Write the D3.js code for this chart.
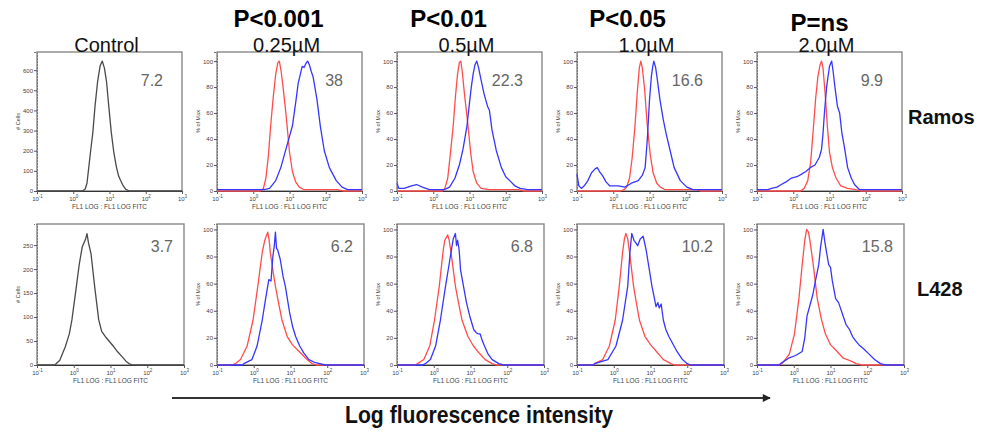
<!DOCTYPE html>
<html>
<head>
<meta charset="utf-8">
<script src="https://cdn.jsdelivr.net/npm/d3@7"></script>
<style>
  body { margin: 0; background: #fff; }
  svg { font-family: "Liberation Sans", Arial, sans-serif; }
</style>
</head>
<body>
<svg width="986" height="432"></svg>
<script>
// ---- labels ----
var concLabels = ["Control", "0.25\u00b5M", "0.5\u00b5M", "1.0\u00b5M", "2.0\u00b5M"];
var pLabels = ["", "P<0.001", "P<0.01", "P<0.05", "P=ns"];
var rowLabels = ["Ramos", "L428"];
var ramosNumbers = ["7.2", "38", "22.3", "16.6", "9.9"];
var l428Numbers = ["3.7", "6.2", "6.8", "10.2", "15.8"];
var xTickExps = [-1, 0, 1, 2, 3];

// ---- histograms: [log10 fluorescence, count or % of max] ----
var ramosControl = [[-1,0],[0.25,0],[0.33,10],[0.38,40],[0.43,120],[0.48,200],[0.54,290],[0.6,420],[0.67,540],[0.74,620],[0.8,645],[0.86,610],[0.92,540],[0.98,420],[1.05,290],[1.12,190],[1.19,120],[1.25,75],[1.3,55],[1.38,25],[1.45,8],[1.55,0],[3,0]];

var ramosRed025 = [[-1,0],[0.2,0],[0.28,2],[0.35,10],[0.42,28],[0.48,50],[0.55,72],[0.62,90],[0.68,99],[0.72,100],[0.77,92],[0.83,78],[0.9,60],[0.95,45],[1.0,30],[1.08,15],[1.17,7],[1.27,3],[1.4,1],[1.6,1],[2.0,1],[2.3,1],[2.5,0],[3,0]];
var ramosBlue025 = [[-1,1],[0.0,1],[0.3,1],[0.45,2],[0.62,8],[0.76,18],[0.9,32],[1.0,42],[1.08,50],[1.18,70],[1.24,83],[1.3,90],[1.35,96],[1.4,95],[1.45,98],[1.5,100],[1.55,97],[1.6,92],[1.65,88],[1.7,80],[1.76,70],[1.85,50],[1.96,31],[2.1,18],[2.29,8],[2.45,3],[2.6,1],[3,1]];

var ramosRed05 = [[-1,0],[0.25,0],[0.32,2],[0.4,10],[0.47,28],[0.55,50],[0.61,72],[0.67,90],[0.72,99],[0.76,100],[0.8,92],[0.86,75],[0.96,50],[1.03,30],[1.1,15],[1.2,6],[1.32,2],[1.55,1],[2.0,1],[2.35,1],[2.5,0],[3,0]];
var ramosBlue05 = [[-1,6],[-0.95,2],[-0.8,2],[-0.6,4],[-0.46,5],[-0.3,3],[-0.1,1],[0.1,1],[0.3,1],[0.45,3],[0.6,10],[0.72,20],[0.82,32],[0.93,50],[1.0,68],[1.05,80],[1.1,90],[1.15,97],[1.2,100],[1.25,95],[1.3,88],[1.4,75],[1.5,65],[1.55,62],[1.62,47],[1.74,31],[1.88,18],[2.0,11],[2.11,8],[2.25,4],[2.4,2],[2.6,1],[3,1]];

var ramosRed10 = [[-1,0],[0.2,0],[0.3,1],[0.37,3],[0.45,10],[0.52,25],[0.6,50],[0.66,75],[0.72,95],[0.76,100],[0.8,95],[0.86,80],[0.94,50],[1.02,28],[1.1,14],[1.2,6],[1.3,3],[1.43,1],[2.3,1],[2.4,0],[3,0]];
var ramosBlue10 = [[-1,13],[-0.95,4],[-0.88,2],[-0.8,4],[-0.7,8],[-0.6,14],[-0.5,17],[-0.44,18],[-0.38,15],[-0.3,12],[-0.2,7],[-0.1,4],[0.0,4],[0.14,4],[0.32,3],[0.5,6],[0.69,8],[0.8,12],[0.88,18],[0.94,40],[1.0,70],[1.05,88],[1.09,96],[1.12,100],[1.17,95],[1.22,85],[1.29,70],[1.38,55],[1.46,44],[1.57,31],[1.68,18],[1.85,8],[2.03,3],[2.2,1],[2.5,1],[3,1]];

var ramosRed20 = [[-1,0],[0.2,0],[0.3,2],[0.4,8],[0.48,22],[0.56,50],[0.62,72],[0.68,88],[0.74,97],[0.78,100],[0.82,95],[0.88,75],[0.94,50],[1.0,30],[1.08,18],[1.18,10],[1.31,4],[1.5,2],[1.73,1],[1.85,0],[3,0]];
var ramosBlue20 = [[-1,1],[-0.7,1],[-0.6,2],[-0.45,3],[-0.33,5],[-0.2,7],[-0.05,10],[0.1,11],[0.23,13],[0.35,15],[0.47,18],[0.6,20],[0.72,26],[0.78,32],[0.82,44],[0.86,60],[0.89,70],[0.92,80],[0.96,88],[1.0,96],[1.06,100],[1.1,92],[1.15,80],[1.22,65],[1.28,60],[1.34,45],[1.41,34],[1.5,18],[1.6,10],[1.69,5],[1.83,1],[3,1]];

var l428Control = [[-1,0],[-0.55,0],[-0.5,1],[-0.38,10],[-0.23,38],[-0.12,65],[-0.05,94],[0.07,163],[0.15,210],[0.23,246],[0.28,255],[0.32,262],[0.36,274],[0.4,255],[0.47,232],[0.57,163],[0.68,94],[0.76,70],[0.86,59],[0.96,50],[1.09,38],[1.2,27],[1.32,17],[1.42,8],[1.5,3],[1.6,0],[3,0]];

var l428Red025 = [[-1,0],[-0.6,0],[-0.5,1],[-0.36,4],[-0.18,14],[-0.02,33],[0.11,58],[0.23,83],[0.3,92],[0.38,98],[0.42,92],[0.45,83],[0.52,70],[0.59,58],[0.68,45],[0.77,33],[0.91,21],[1.05,15],[1.27,9],[1.45,4],[1.59,1],[1.7,0],[3,0]];
var l428Blue025 = [[-1,0],[-0.3,0],[-0.27,1],[-0.05,4],[0.09,14],[0.23,33],[0.33,50],[0.41,63],[0.47,62],[0.52,80],[0.56,88],[0.59,98],[0.62,86],[0.65,85],[0.72,78],[0.8,65],[0.86,58],[0.98,38],[1.06,28],[1.14,21],[1.25,14],[1.36,9],[1.5,4],[1.65,2],[1.8,1],[1.95,0],[3,0]];

var l428Red05 = [[-1,0],[-0.5,0],[-0.44,1],[-0.27,4],[-0.11,14],[0.02,33],[0.15,58],[0.25,83],[0.3,92],[0.38,96],[0.42,92],[0.47,83],[0.59,58],[0.68,45],[0.77,33],[0.93,21],[1.08,14],[1.23,9],[1.4,4],[1.59,1],[1.7,0],[3,0]];
var l428Blue05 = [[-1,0],[-0.3,0],[-0.23,1],[-0.09,4],[0.05,14],[0.18,33],[0.32,58],[0.44,78],[0.53,93],[0.59,97],[0.62,88],[0.65,92],[0.69,85],[0.73,70],[0.81,58],[0.89,46],[0.99,35],[1.09,26],[1.15,24],[1.2,23],[1.26,23],[1.32,18],[1.38,14],[1.48,8],[1.59,4],[1.77,1],[1.9,0],[3,0]];

var l428Red10 = [[-1,0],[-0.55,0],[-0.52,1],[-0.3,4],[-0.12,14],[0.04,33],[0.15,58],[0.24,83],[0.29,93],[0.33,97],[0.38,93],[0.43,83],[0.54,58],[0.62,45],[0.7,33],[0.85,21],[1.0,15],[1.19,9],[1.35,4],[1.56,1],[1.65,0],[3,0]];
var l428Blue10 = [[-1,0],[-0.55,0],[-0.52,1],[-0.16,4],[0.06,14],[0.24,33],[0.38,58],[0.44,83],[0.49,97],[0.55,92],[0.6,90],[0.65,88],[0.72,93],[0.8,95],[0.88,85],[0.97,70],[1.04,58],[1.1,50],[1.15,43],[1.2,46],[1.24,42],[1.29,45],[1.35,33],[1.42,26],[1.5,21],[1.6,16],[1.72,10],[1.87,4],[2.0,1],[2.1,0],[3,0]];

var l428Red20 = [[-1,0],[-0.4,0],[-0.32,1],[-0.12,8],[0.02,23],[0.14,49],[0.23,74],[0.3,92],[0.35,100],[0.4,98],[0.45,90],[0.53,74],[0.64,49],[0.75,34],[0.86,23],[1.0,15],[1.18,10],[1.35,5],[1.55,3],[1.7,1],[1.85,0],[3,0]];
var l428Blue20 = [[-1,0],[-0.4,0],[-0.36,1],[-0.14,5],[0.05,7],[0.23,10],[0.3,20],[0.36,36],[0.45,45],[0.52,52],[0.59,62],[0.68,74],[0.73,87],[0.8,100],[0.85,90],[0.9,82],[0.95,74],[1.0,72],[1.05,62],[1.14,49],[1.22,46],[1.32,38],[1.42,30],[1.52,26],[1.6,21],[1.68,18],[1.77,15],[1.9,12],[2.05,8],[2.2,4],[2.36,1],[2.5,0],[3,0]];

// ---- layout ----
var svg = d3.select("svg");
var colLeft = [37, 217, 397, 577, 757];
var rows = [
  { top: 52, bottom: 191, width: 145 },
  { top: 224, bottom: 365, width: 147 }
];
var pLabelOffset = [[0, 0], [-11, 0], [-21, 0], [-22, 0], [-10, 4]];
var red = "#ff4d4d", blue = "#3636ff", black = "#4a4a4a";

var panels = [
  { row: 0, col: 0, yMax: 690, yTicks: d3.range(0, 601, 100), yLabel: "# Cells", curves: [[ramosControl, black]], num: ramosNumbers[0] },
  { row: 0, col: 1, yMax: 107, yTicks: d3.range(0, 101, 20), yLabel: "% of Max", curves: [[ramosRed025, red], [ramosBlue025, blue]], num: ramosNumbers[1] },
  { row: 0, col: 2, yMax: 107, yTicks: d3.range(0, 101, 20), yLabel: "% of Max", curves: [[ramosRed05, red], [ramosBlue05, blue]], num: ramosNumbers[2] },
  { row: 0, col: 3, yMax: 107, yTicks: d3.range(0, 101, 20), yLabel: "% of Max", curves: [[ramosRed10, red], [ramosBlue10, blue]], num: ramosNumbers[3] },
  { row: 0, col: 4, yMax: 107, yTicks: d3.range(0, 101, 20), yLabel: "% of Max", curves: [[ramosRed20, red], [ramosBlue20, blue]], num: ramosNumbers[4] },
  { row: 1, col: 0, yMax: 294, yTicks: d3.range(0, 251, 50), yLabel: "# Cells", curves: [[l428Control, black]], num: l428Numbers[0] },
  { row: 1, col: 1, yMax: 104, yTicks: d3.range(0, 101, 20), yLabel: "% of Max", curves: [[l428Red025, red], [l428Blue025, blue]], num: l428Numbers[1] },
  { row: 1, col: 2, yMax: 104, yTicks: d3.range(0, 101, 20), yLabel: "% of Max", curves: [[l428Red05, red], [l428Blue05, blue]], num: l428Numbers[2] },
  { row: 1, col: 3, yMax: 104, yTicks: d3.range(0, 101, 20), yLabel: "% of Max", curves: [[l428Red10, red], [l428Blue10, blue]], num: l428Numbers[3] },
  { row: 1, col: 4, yMax: 104, yTicks: d3.range(0, 101, 20), yLabel: "% of Max", curves: [[l428Red20, red], [l428Blue20, blue]], num: l428Numbers[4] }
];

panels.forEach(function (p) {
  var r = rows[p.row];
  var w = r.width, h = r.bottom - r.top;
  var g = svg.append("g").attr("transform", "translate(" + colLeft[p.col] + "," + r.top + ")");

  var x = d3.scaleLog().domain([0.1, 1000]).range([0, w]);
  var y = d3.scaleLinear().domain([0, p.yMax]).range([h, 0]);

  // frame
  g.append("rect").attr("width", w).attr("height", h)
    .attr("fill", "none").attr("stroke", "#888").attr("stroke-width", 1.4);

  // x axis
  var xa = g.append("g").attr("transform", "translate(0," + h + ")")
    .call(d3.axisBottom(x).tickValues(xTickExps.map(function (e) { return Math.pow(10, e); })).tickSize(3).tickFormat(""));
  xa.select(".domain").attr("stroke", "#333");
  xa.selectAll(".tick line").attr("stroke", "#555");
  xa.selectAll(".tick").each(function (d, i) {
    var t = d3.select(this).append("text").attr("y", 10).attr("fill", "#444")
      .attr("font-size", 6).attr("text-anchor", "middle");
    t.append("tspan").text("10");
    t.append("tspan").attr("dy", -3).attr("font-size", 4.5).text(xTickExps[i]);
  });
  g.append("text").attr("x", w / 2).attr("y", h + 18).attr("text-anchor", "middle")
    .attr("font-size", 6.5).attr("fill", "#444").text("FL1 LOG : FL1 LOG FITC");

  // y axis
  var ya = g.append("g").call(d3.axisLeft(y).tickValues(p.yTicks).tickSize(3));
  ya.select(".domain").attr("stroke", "#777").attr("stroke-dasharray", "2,1");
  ya.selectAll(".tick line").attr("stroke", "#555");
  ya.selectAll(".tick text").attr("font-size", 6).attr("fill", "#444").attr("x", -4);
  g.append("text").attr("transform", "translate(-17," + (h / 2) + ") rotate(-90)")
    .attr("text-anchor", "middle").attr("font-size", 5.5).attr("fill", "#444").text(p.yLabel);

  // curves
  var line = d3.line()
    .x(function (d) { return x(Math.pow(10, d[0])); })
    .y(function (d) { return y(d[1]); });
  p.curves.forEach(function (c) {
    g.append("path").datum(c[0]).attr("d", line)
      .attr("fill", "none").attr("stroke", c[1]).attr("stroke-width", 1.3)
      .attr("stroke-linejoin", "round");
  });

  // value in corner
  g.append("text").attr("x", w - (p.row === 0 ? 19 : 11)).attr("y", p.row === 0 ? 34 : 28)
    .attr("text-anchor", "end").attr("font-size", 16).attr("fill", "#666").text(p.num);
});

// column headers
concLabels.forEach(function (t, i) {
  var cx = colLeft[i] + rows[0].width / 2 - 3;
  svg.append("text").attr("x", cx).attr("y", 52).attr("text-anchor", "middle")
    .attr("font-size", 20).attr("fill", "#111").text(t);
  if (pLabels[i]) {
    svg.append("text").attr("x", cx + 3 + pLabelOffset[i][0]).attr("y", 27 + pLabelOffset[i][1])
      .attr("text-anchor", "middle").attr("font-size", 24).attr("font-weight", "bold")
      .attr("fill", "#000").text(pLabels[i]);
  }
});

// row labels
svg.append("text").attr("x", 908).attr("y", 124).attr("font-size", 20)
  .attr("font-weight", "bold").attr("fill", "#111").text(rowLabels[0]);
svg.append("text").attr("x", 917).attr("y", 296).attr("font-size", 20)
  .attr("font-weight", "bold").attr("fill", "#111").text(rowLabels[1]);

// bottom arrow and axis title
svg.append("defs").append("marker").attr("id", "arrow")
  .attr("viewBox", "0 0 10 10").attr("refX", 9).attr("refY", 5)
  .attr("markerWidth", 5).attr("markerHeight", 4).attr("markerUnits", "strokeWidth")
  .attr("orient", "auto")
  .append("path").attr("d", "M0,0L10,5L0,10Z").attr("fill", "#222");
svg.append("line").attr("x1", 172).attr("x2", 770).attr("y1", 398).attr("y2", 398)
  .attr("stroke", "#333").attr("stroke-width", 2).attr("marker-end", "url(#arrow)");
svg.append("text").attr("x", 479).attr("y", 423).attr("text-anchor", "middle")
  .attr("font-size", 23).attr("font-weight", "bold").attr("fill", "#111")
  .attr("textLength", 268).attr("lengthAdjust", "spacingAndGlyphs")
  .text("Log fluorescence intensity");
</script>
</body>
</html>
